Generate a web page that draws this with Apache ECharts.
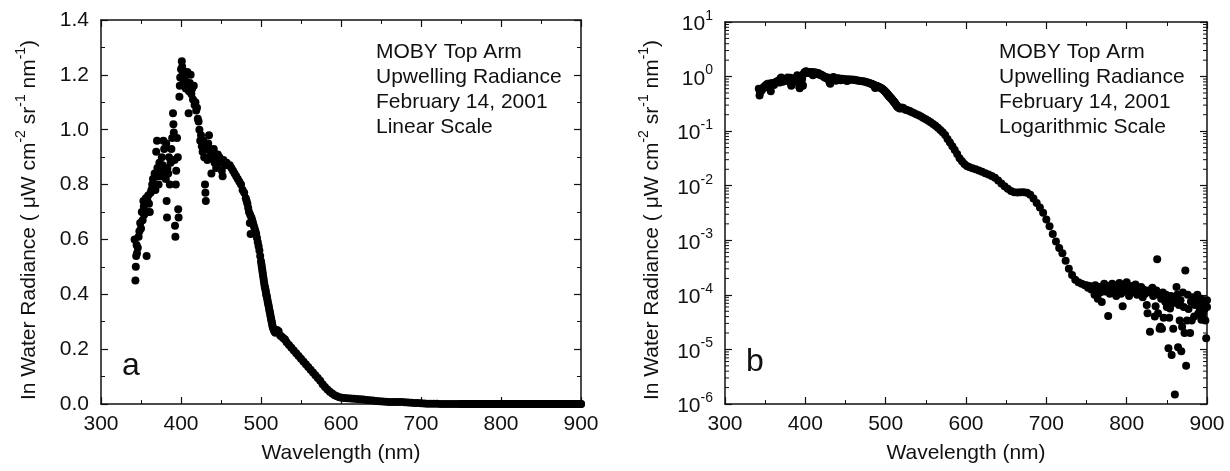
<!DOCTYPE html>
<html>
<head>
<meta charset="utf-8">
<title>MOBY Top Arm upwelling radiance</title>
<script src="https://cdn.jsdelivr.net/npm/echarts@6/dist/echarts.min.js"></script>
<style>
  html, body { margin: 0; padding: 0; background: #fff; }
  #chart { width: 1230px; height: 471px; }
</style>
</head>
<body>
<div id="chart"></div>
<script>
/* =====================================================
   MOBY Top Arm upwelling radiance, Feb 14 2001
   - panel a: linear y, panel b: log y
   - same spectrum in both panels
   ===================================================== */

// wavelength (nm), radiance (uW cm-2 sr-1 nm-1)
// noisy blue part, 340..447 nm
const BLUE_PTS = [
  [342, 0.60], [343, 0.45], [343.5, 0.50], [344, 0.54], [344.5, 0.58], [345, 0.55],
  [346, 0.57], [347, 0.61], [348, 0.63], [349, 0.66], [350, 0.64], [351, 0.70],
  [352, 0.67], [353, 0.74], [353.5, 0.72], [354, 0.69], [355, 0.73], [356, 0.75],
  [357, 0.54], [357.5, 0.70], [358, 0.74], [359, 0.76], [360, 0.73], [361, 0.70],
  [362, 0.77], [363, 0.78], [364, 0.80], [365, 0.82], [366, 0.79], [367, 0.84],
  [368, 0.78], [369, 0.92], [370, 0.96], [370.5, 0.86], [371, 0.83], [372, 0.80],
  [373, 0.88], [374, 0.85], [375, 0.83], [376, 0.90], [377, 0.87], [378, 0.96],
  [379, 0.93], [380, 0.84], [381, 0.82], [381.5, 0.95], [382, 0.74], [382.5, 0.68],
  [383, 0.86], [384, 0.84], [385, 0.90], [386, 0.80], [387, 0.88], [388, 0.93],
  [389, 0.97], [390, 1.06], [390.5, 1.02], [391, 0.99], [392, 0.89], [392.5, 0.65],
  [393, 0.61], [393.5, 0.80], [394, 0.85], [395, 0.97], [396, 0.90], [396.5, 0.71],
  [397, 0.68], [398, 1.12], [398.5, 1.16], [399, 1.19], [400, 1.22], [401, 1.25],
  [401.5, 1.23], [402, 1.20], [403, 1.17], [404, 1.21], [405, 1.18], [406, 1.15],
  [407, 1.20], [408, 1.21], [409, 1.16], [409.5, 1.06], [410, 1.14], [411, 1.17],
  [412, 1.20], [413, 1.13], [414, 1.15], [415, 1.11], [416, 1.16], [417, 1.09],
  [418, 1.10], [419, 1.07], [420, 1.08], [421, 1.04], [422, 1.03], [423, 1.00],
  [424, 0.96], [425, 0.98], [426, 0.94], [427, 0.92], [428, 0.96], [429, 0.90],
  [430, 0.80], [430.5, 0.77], [431, 0.74], [432, 0.93], [433, 0.89], [434, 0.95],
  [435, 0.98], [436, 0.93], [437, 0.91], [438, 0.84], [439, 0.92], [440, 0.90],
  [441, 0.93], [442, 0.88], [443, 0.91], [444, 0.86], [445, 0.89], [446, 0.91],
  [447, 0.88]
];

// smooth middle part, 448..748 nm
const MAIN_PTS = [
  [448, 0.90], [450, 0.88], [451, 0.85], [452, 0.83], [453, 0.89], [455, 0.87],
  [457, 0.88], [459, 0.87], [461, 0.87], [463, 0.86], [465, 0.85], [467, 0.84],
  [469, 0.83], [471, 0.82], [473, 0.81], [475, 0.80], [477, 0.78], [479, 0.77],
  [481, 0.75], [482, 0.74], [483, 0.73], [484, 0.715], [485, 0.70], [486, 0.66],
  [486.5, 0.69], [487, 0.62], [488, 0.68], [489, 0.67], [490, 0.66], [491, 0.65],
  [492, 0.64], [493, 0.63], [494, 0.62], [495, 0.605], [496, 0.59], [497, 0.575],
  [498, 0.56], [499, 0.54], [500, 0.52], [500.5, 0.51], [501, 0.50], [501.5, 0.49],
  [502, 0.48], [502.5, 0.47], [503, 0.46], [503.5, 0.45], [504, 0.44], [504.5, 0.43],
  [505, 0.425], [505.5, 0.418], [506, 0.41], [506.5, 0.40], [507, 0.395], [507.5, 0.388],
  [508, 0.38], [508.5, 0.372], [509, 0.365], [509.5, 0.358], [510, 0.35], [510.5, 0.342],
  [511, 0.335], [511.5, 0.328], [512, 0.32], [512.5, 0.312], [513, 0.305], [513.5, 0.298],
  [514, 0.29], [514.5, 0.283], [515, 0.277], [516, 0.27], [517, 0.263], [518, 0.26],
  [519, 0.265], [520, 0.27], [522, 0.265], [524, 0.25],
  [526, 0.245], [528, 0.24], [530, 0.235], [532, 0.225], [535, 0.215], [538, 0.205],
  [541, 0.195], [544, 0.185], [547, 0.175], [550, 0.165], [553, 0.155], [556, 0.145],
  [559, 0.135], [562, 0.125], [565, 0.115], [568, 0.105], [571, 0.095], [574, 0.085],
  [577, 0.072], [580, 0.062], [583, 0.053], [586, 0.045], [589, 0.038], [592, 0.032],
  [595, 0.028], [598, 0.025], [601, 0.023], [604, 0.022], [608, 0.021], [612, 0.020],
  [616, 0.019], [620, 0.018], [624, 0.017], [628, 0.016], [632, 0.015], [636, 0.014],
  [640, 0.0125], [644, 0.011], [648, 0.0098], [652, 0.0088], [656, 0.0080], [660, 0.0076],
  [664, 0.0075], [668, 0.0076], [672, 0.0076], [676, 0.0074], [680, 0.0068], [684, 0.0058],
  [688, 0.0048], [692, 0.0040], [696, 0.0032], [700, 0.0024], [704, 0.0018], [708, 0.0013],
  [712, 0.00095], [716, 0.00072], [720, 0.00058], [724, 0.00042], [728, 0.00030], [732, 0.00023],
  [736, 0.00019], [740, 0.00017], [744, 0.00016], [748, 0.00015]
];

// noisy near-infrared tail, 750..900 nm
const NIR_PTS = [
  [750, 1.50e-4], [752, 1.35e-4], [754, 1.45e-4], [756, 1.25e-4], [758, 1.40e-4], [760, 1.00e-4],
  [761, 1.50e-4], [763, 1.20e-4], [764, 0.85e-4], [766, 1.40e-4], [767, 1.10e-4], [769, 0.74e-4],
  [770, 1.35e-4], [772, 1.60e-4], [773, 1.15e-4], [775, 1.30e-4], [777, 0.41e-4], [778, 1.45e-4],
  [779, 1.05e-4], [781, 1.25e-4], [782, 1.60e-4], [784, 1.10e-4], [785, 1.40e-4], [787, 0.95e-4],
  [788, 1.50e-4], [790, 1.20e-4], [791, 1.65e-4], [793, 1.05e-4], [795, 0.62e-4], [796, 1.30e-4],
  [797, 1.50e-4], [799, 1.15e-4], [800, 1.70e-4], [802, 1.25e-4], [803, 0.95e-4], [805, 1.45e-4],
  [806, 1.10e-4], [808, 1.35e-4], [810, 1.20e-4], [811, 1.55e-4], [813, 1.00e-4], [815, 1.30e-4],
  [816, 1.15e-4], [818, 1.40e-4], [820, 0.90e-4], [821, 1.25e-4], [823, 1.05e-4], [825, 0.65e-4],
  [826, 0.46e-4], [827, 1.20e-4], [829, 0.21e-4], [830, 1.10e-4], [832, 1.35e-4], [833, 0.95e-4],
  [835, 0.40e-4], [836, 0.62e-4], [837, 1.20e-4], [838, 4.50e-4], [839, 0.46e-4], [840, 1.00e-4],
  [841, 0.24e-4], [842, 0.26e-4], [843, 0.85e-4], [844, 0.24e-4], [845, 1.10e-4], [846, 0.38e-4],
  [847, 0.90e-4], [848, 0.75e-4], [849, 1.00e-4], [850, 0.60e-4], [851, 0.85e-4], [852, 0.105e-4],
  [853, 0.38e-4], [854, 0.56e-4], [855, 0.95e-4], [856, 0.079e-4], [857, 0.70e-4], [858, 0.24e-4],
  [859, 0.90e-4], [860, 0.015e-4], [861, 0.80e-4], [862, 1.40e-4], [863, 1.00e-4], [864, 0.11e-4],
  [865, 0.65e-4], [866, 0.34e-4], [867, 0.80e-4], [868, 0.093e-4], [869, 0.26e-4], [870, 1.10e-4],
  [871, 0.60e-4], [872, 0.20e-4], [873, 2.80e-4], [874, 0.050e-4], [875, 0.34e-4], [876, 1.00e-4],
  [877, 0.55e-4], [879, 0.20e-4], [880, 0.75e-4], [881, 0.34e-4], [882, 0.90e-4], [884, 0.40e-4],
  [885, 0.65e-4], [886, 0.85e-4], [887, 0.69e-4], [888, 1.00e-4], [889, 0.45e-4], [890, 0.70e-4],
  [891, 0.52e-4], [892, 0.85e-4], [893, 0.35e-4], [894, 0.60e-4], [895, 0.46e-4], [896, 0.80e-4],
  [897, 0.55e-4], [898, 0.34e-4], [899, 0.16e-4], [900, 0.80e-4], [900, 0.60e-4]
];

// axis ticks
const X_MIN = 300, X_MAX = 900, X_STEP = 100;
const LIN_MAX = 1.4, LIN_STEP = 0.2;
const LOG_MIN = 1e-6, LOG_MAX = 10;
const LOG_DECADES = [-6, -5, -4, -3, -2, -1, 0];
const LOG_MINOR_MULT = [2, 3, 4, 5, 6, 7, 8, 9];

const NOTE_LINES_A = ["MOBY Top Arm", "Upwelling Radiance", "February 14, 2001", "Linear Scale"];
const NOTE_LINES_B = ["MOBY Top Arm", "Upwelling Radiance", "February 14, 2001", "Logarithmic Scale"];

(function () {
  const FONT = '"Liberation Sans", Arial, sans-serif';
  const INK = "#111";

  const spectrum = BLUE_PTS.concat(MAIN_PTS, NIR_PTS);

  const minorLogTicks = [];
  LOG_DECADES.forEach(e => {
    LOG_MINOR_MULT.forEach(m => minorLogTicks.push([X_MIN, m * Math.pow(10, e)]));
  });

  const chart = echarts.init(document.getElementById("chart"), null, { renderer: "canvas" });

  const lineStyle = { color: INK, width: 1.5 };

  function xAxisFor(gridIndex, position) {
    const bottom = position === "bottom";
    return {
      gridIndex: gridIndex,
      position: position,
      type: "value",
      min: X_MIN,
      max: X_MAX,
      interval: X_STEP,
      axisLine: { show: true, onZero: false, lineStyle: lineStyle },
      axisTick: { show: true, inside: true, length: 7, lineStyle: { color: INK, width: 1.2 } },
      minorTick: { show: true, splitNumber: 2, length: 4, lineStyle: { color: INK, width: 1 } },
      axisLabel: { show: bottom, margin: 10, fontSize: 21, color: INK, fontFamily: FONT },
      splitLine: { show: false },
      minorSplitLine: { show: false }
    };
  }

  function linYAxis(position) {
    const left = position === "left";
    return {
      gridIndex: 0,
      position: position,
      type: "value",
      min: 0,
      max: LIN_MAX,
      interval: LIN_STEP,
      axisLine: { show: true, onZero: false, lineStyle: lineStyle },
      axisTick: { show: true, inside: true, length: 7, lineStyle: { color: INK, width: 1.2 } },
      minorTick: { show: true, splitNumber: 2, length: 4, lineStyle: { color: INK, width: 1 } },
      axisLabel: {
        show: left, margin: 12, fontSize: 21, color: INK, fontFamily: FONT,
        formatter: v => v.toFixed(1)
      },
      splitLine: { show: false }
    };
  }

  function logYAxis(position) {
    const left = position === "left";
    return {
      gridIndex: 1,
      position: position,
      type: "log",
      logBase: 10,
      min: LOG_MIN,
      max: LOG_MAX,
      splitNumber: 7,
      axisLine: { show: true, onZero: false, lineStyle: lineStyle },
      axisTick: { show: true, inside: true, length: 7, lineStyle: { color: INK, width: 1.2 } },
      minorTick: { show: false },
      axisLabel: {
        show: left,
        margin: 12,
        color: INK,
        fontFamily: FONT,
        formatter: v => `{b|10}{s|${Math.round(Math.log10(v))}}`,
        rich: {
          b: { fontSize: 21, lineHeight: 26, verticalAlign: "bottom", color: INK, fontFamily: FONT },
          s: { fontSize: 14, lineHeight: 14, verticalAlign: "top", color: INK, fontFamily: FONT }
        }
      },
      splitLine: { show: false }
    };
  }

  // rich text for the y titles (superscript exponents)
  const titleRich = {
    t: { fontSize: 21, lineHeight: 26, verticalAlign: "bottom", fill: INK, fontFamily: FONT },
    s: { fontSize: 14, lineHeight: 14, verticalAlign: "top", fill: INK, fontFamily: FONT }
  };
  const yTitle = "{t|In Water Radiance ( \u03bcW cm}{s|-2}{t| sr}{s|-1}{t| nm}{s|-1}{t|)}";

  function textEl(x, y, text, size) {
    return {
      type: "text",
      x: x,
      y: y,
      silent: true,
      style: {
        text: text,
        fill: INK,
        font: `${size || 21}px ${FONT}`,
        textAlign: "center",
        textVerticalAlign: "middle"
      }
    };
  }

  function noteEl(x, lines) {
    return {
      type: "text",
      x: x,
      y: 40,
      silent: true,
      style: {
        text: lines.join("\n"),
        fill: INK,
        font: `21px ${FONT}`,
        lineHeight: 25,
        textAlign: "left",
        textVerticalAlign: "top"
      }
    };
  }

  function rotatedTitle(x) {
    return {
      type: "text",
      x: x,
      y: 220,
      rotation: Math.PI / 2,
      silent: true,
      style: {
        text: yTitle,
        rich: titleRich,
        fill: INK,
        fontFamily: FONT,
        fontSize: 21,
        textAlign: "center",
        textVerticalAlign: "middle"
      }
    };
  }

  const dots = {
    type: "scatter",
    symbol: "circle",
    symbolSize: 8,
    itemStyle: { color: "#000", opacity: 1, borderWidth: 0 },
    clip: false,
    silent: true,
    data: spectrum
  };

  const option = {
    animation: false,
    backgroundColor: "#fff",
    textStyle: { fontFamily: FONT },

    grid: [
      { left: 101, top: 20, width: 480, height: 384 },
      { left: 725, top: 22, width: 482, height: 382 }
    ],

    xAxis: [
      xAxisFor(0, "bottom"),
      xAxisFor(0, "top"),
      xAxisFor(1, "bottom"),
      xAxisFor(1, "top")
    ],

    yAxis: [
      linYAxis("left"),
      linYAxis("right"),
      logYAxis("left"),
      logYAxis("right")
    ],

    series: [
      Object.assign({}, dots, { xAxisIndex: 0, yAxisIndex: 0 }),
      Object.assign({}, dots, { xAxisIndex: 2, yAxisIndex: 2 }),
      {
        // minor 2..9 ticks on the log axes, both sides, pointing inward
        type: "custom",
        xAxisIndex: 2,
        yAxisIndex: 2,
        silent: true,
        clip: false,
        data: minorLogTicks,
        renderItem: function (params, api) {
          const v = api.value(1);
          const l = api.coord([X_MIN, v]);
          const r = api.coord([X_MAX, v]);
          const st = { stroke: INK, lineWidth: 1 };
          return {
            type: "group",
            children: [
              { type: "line", shape: { x1: l[0], y1: l[1], x2: l[0] + 4, y2: l[1] }, style: st },
              { type: "line", shape: { x1: r[0], y1: r[1], x2: r[0] - 4, y2: r[1] }, style: st }
            ]
          };
        }
      }
    ],

    graphic: [
      noteEl(376, NOTE_LINES_A),
      noteEl(999, NOTE_LINES_B),
      textEl(131, 366, "a", 32),
      textEl(755, 362, "b", 32),
      textEl(341, 453, "Wavelength (nm)"),
      textEl(966, 453, "Wavelength (nm)"),
      rotatedTitle(27),
      rotatedTitle(650)
    ]
  };

  chart.setOption(option);
})();
</script>
</body>
</html>
